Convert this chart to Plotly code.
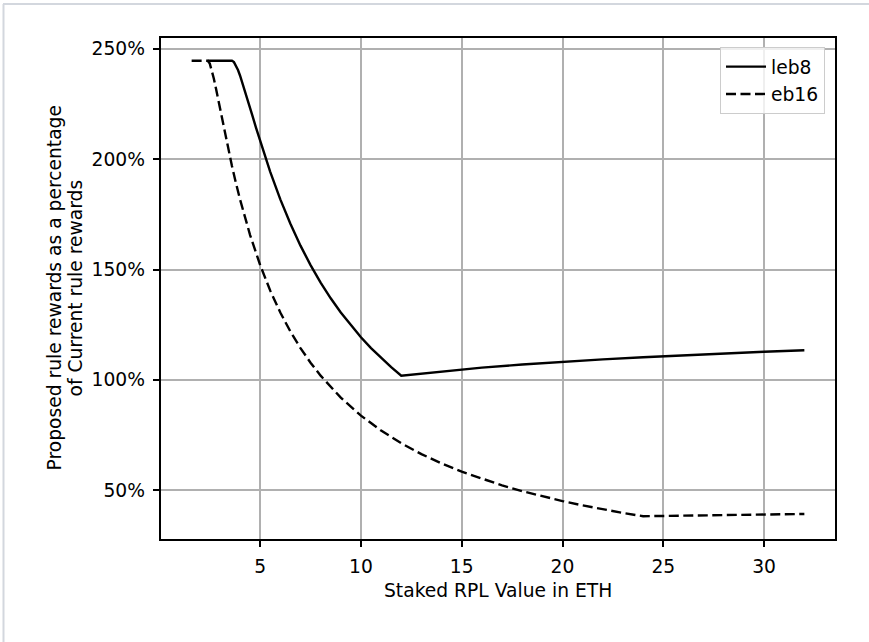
import plotly.graph_objects as go

# Staked RPL value (ETH) and proposed/current reward ratio (%) per minipool type
leb8_x = [2.4, 3.6, 3.7, 3.8, 3.9, 4.0, 4.2, 4.4, 4.6, 4.8,
          5.0, 5.5, 6.0, 6.5, 7.0, 7.5, 8.0, 8.5, 9.0, 9.5,
          10.0, 10.5, 11.0, 11.5, 12.0,
          14, 16, 18, 20, 22, 24, 26, 28, 30, 32]
leb8_y = [244.6, 244.6, 244.0, 242.49, 240.4, 237.93, 232.33, 226.3, 220.17, 214.09,
          208.17, 194.28, 181.82, 170.73, 160.85, 152.02, 144.11, 136.98, 130.53, 124.67,
          119.32, 114.42, 109.92, 105.77, 101.93,
          103.91, 105.57, 106.98, 108.21, 109.31, 110.29, 111.19, 112.01, 112.76, 113.47]

eb16_x = [1.6, 2.4, 2.5, 2.6, 2.7, 2.8, 3.0, 3.2, 3.4, 3.6,
          3.8, 4.0, 4.5, 5.0, 5.5, 6.0, 6.5, 7.0, 7.5, 8.0,
          9, 10, 11, 12, 13, 14, 15, 16, 17, 18,
          19, 20, 21, 22, 23, 24, 26, 28, 30, 32]
eb16_y = [244.6, 244.6, 243.33, 240.4, 236.6, 232.33, 223.23, 214.09, 205.28, 196.94,
          189.12, 181.82, 165.65, 152.02, 140.45, 130.53, 121.93, 114.42, 107.80, 101.93,
          91.96, 83.82, 77.05, 71.32, 66.41, 62.16, 58.43, 55.15, 52.22, 49.6,
          47.24, 45.11, 43.16, 41.38, 39.75, 38.25, 38.53, 38.79, 39.03, 39.26]

x_ticks = [5, 10, 15, 20, 25, 30]
x_tick_text = ["5", "10", "15", "20", "25", "30"]
y_ticks = [50, 100, 150, 200, 250]
y_tick_text = ["50%", "100%", "150%", "200%", "250%"]

x_label = "Staked RPL Value in ETH"
y_label_lines = ["Proposed rule rewards as a percentage", "of Current rule rewards"]

# page geometry (pixels)
W, H = 869, 642
L, R, T, B = 161, 835, 38, 539
PW, PH = R - L, B - T


def px_x(px):
    return (px - L) / PW


def px_y(py):
    return (B - py) / PH


FONT = "DejaVu Sans"
FS = 18.7

fig = go.Figure()
fig.add_trace(go.Scatter(x=leb8_x, y=leb8_y, mode="lines", name="leb8",
                         line=dict(color="black", width=2.4)))
fig.add_trace(go.Scatter(x=eb16_x, y=eb16_y, mode="lines", name="eb16",
                         line=dict(color="black", width=2.4, dash="10px,4.5px")))

axis_common = dict(
    showgrid=True, gridcolor="#b0b0b0", gridwidth=1.5,
    showline=True, linecolor="black", linewidth=1.5, mirror=True,
    ticks="outside", ticklen=6.5, tickwidth=1.5, tickcolor="black",
    tickfont=dict(family=FONT, size=FS, color="black"),
    zeroline=False,
)

fig.update_xaxes(range=[0.08, 33.52], tickvals=x_ticks, ticktext=x_tick_text,
                 ticklabelstandoff=3, **axis_common)
fig.update_yaxes(range=[27.93, 254.92], tickvals=y_ticks, ticktext=y_tick_text,
                 ticklabelstandoff=4, **axis_common)

annotations = [
    dict(text=x_label, xref="paper", yref="paper", x=0.5, y=px_y(590),
         xanchor="center", yanchor="middle", showarrow=False,
         font=dict(family=FONT, size=FS, color="black")),
    dict(text=y_label_lines[0], xref="paper", yref="paper", x=px_x(54), y=0.5,
         xanchor="center", yanchor="middle", showarrow=False, textangle=-90,
         font=dict(family=FONT, size=FS, color="black")),
    dict(text=y_label_lines[1], xref="paper", yref="paper", x=px_x(75), y=0.5,
         xanchor="center", yanchor="middle", showarrow=False, textangle=-90,
         font=dict(family=FONT, size=FS, color="black")),
]

# light frame around the output cell
shapes = [
    dict(type="line", xref="paper", yref="paper", x0=px_x(3), x1=px_x(869),
         y0=px_y(4), y1=px_y(4), line=dict(color="#d3d7de", width=2)),
    dict(type="line", xref="paper", yref="paper", x0=px_x(3.5), x1=px_x(3.5),
         y0=px_y(4), y1=px_y(642), line=dict(color="#d3d7de", width=2)),
]

fig.update_layout(
    width=W, height=H,
    margin=dict(l=L, r=W - R, t=T, b=H - B, autoexpand=False),
    paper_bgcolor="white", plot_bgcolor="white",
    showlegend=True,
    legend=dict(x=px_x(825), y=px_y(47), xanchor="right", yanchor="top",
                itemwidth=40, tracegroupgap=0,
                bgcolor="rgba(255,255,255,0.8)", bordercolor="#cccccc", borderwidth=1,
                font=dict(family=FONT, size=FS, color="black")),
    annotations=annotations,
    shapes=shapes,
)

fig.write_html("out.html")
